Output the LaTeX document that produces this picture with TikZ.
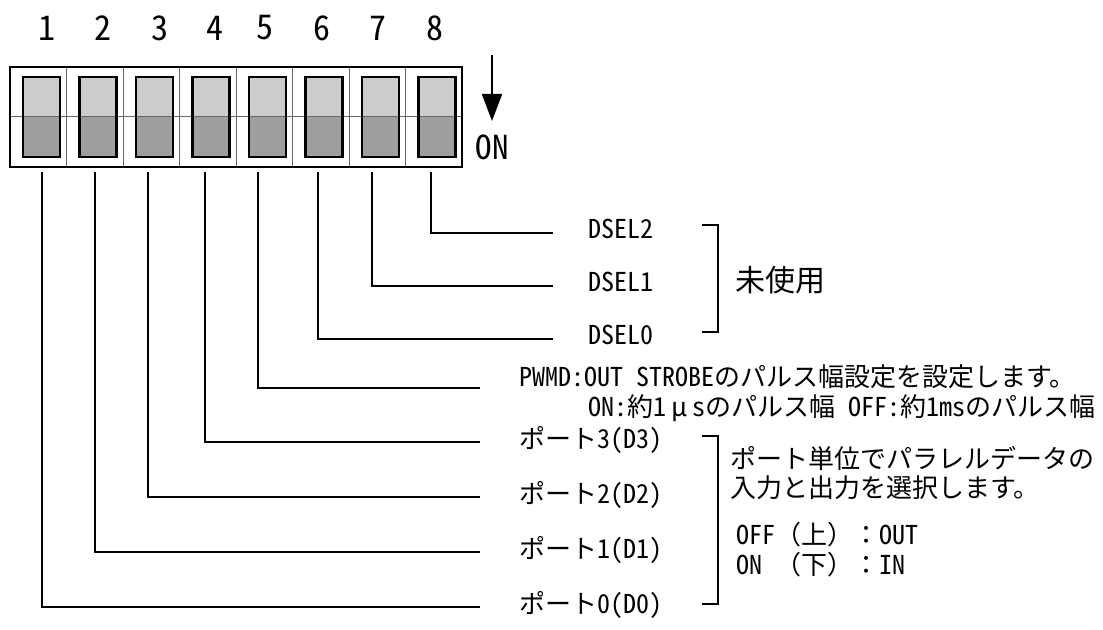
\documentclass[tikz,border=0pt]{standalone}
\usepackage{fontspec}
\setmainfont{Noto Sans CJK JP}[RawFeature=+hwid]
\newfontfamily\jpfull{Noto Sans CJK JP}[RawFeature=+fwid]
\usetikzlibrary{positioning,arrows.meta}

\begin{document}
\begin{tikzpicture}[x=0.5pt, y=-0.5pt,
  cell/.style={draw=black!60, line width=0.4pt},
  lever/.style={draw, line width=1.3pt},
  lead/.style={line width=1pt},
  brk/.style={line width=1pt},
  lbl/.style={anchor=west, inner sep=0pt, font=\fontsize{13}{14}\selectfont},
  num/.style={inner sep=0pt, font=\fontsize{17}{18}\selectfont}
]
\useasboundingbox (0,0) rectangle (1103,630);

% switch body, one cell per bit
\foreach \i/\nx/\lx in {1/47/42, 2/103/95, 3/160/148, 4/215/205, 5/265/258, 6/322/318, 7/378/372, 8/435/431} {
  \pgfmathsetmacro{\xl}{10+56.5*(\i-1)}
  \draw[cell] (\xl,67) rectangle +(56.5,100);
  \fill[black!20] (\xl+13,77) rectangle +(37,39);
  \fill[black!38] (\xl+13,116) rectangle +(37,41);
  \draw[cell] (\xl,116) -- +(56.5,0);
  \draw[lever] (\xl+13,77) rectangle +(37,80);
  \node[num] (n\i) at (\nx,28) {\i};
  \coordinate (s\i) at (\lx,172);
}
\draw[line width=0.8pt] (10,67) rectangle (462,167);

% ON direction
\coordinate (atop) at (492,55);
\coordinate (atip) at (492,121);
\node[num, font=\fontsize{16.5}{17}\selectfont] (on) at (492,147) {ON};
\draw[line width=1pt, -{Triangle[length=13.5pt, width=10pt]}] (atop) -- (atip);

% line ends
\coordinate (e8) at (553,233);
\coordinate (e7) at (553,286);
\coordinate (e6) at (553,339);
\coordinate (e5) at (480,388);
\coordinate (e4) at (480,442);
\coordinate (e3) at (480,497);
\coordinate (e2) at (480,552);
\coordinate (e1) at (480,607);

\foreach \i in {1,...,8}
  \draw[lead] (s\i) |- (e\i);

\node[lbl] (dsel2) at (588,229) {DSEL2};
\node[lbl] (dsel1) at (588,282) {DSEL1};
\node[lbl] (dsel0) at (588,335) {DSEL0};
\node[lbl] (pwmd) at (519,377) {PWMD:OUT STROBEのパルス幅設定を設定します。};
\node[lbl] (pwmdon) at (588,408) {ON:約1{\jpfull\makebox[1em]{μ}}sのパルス幅 OFF:約1msのパルス幅};
\node[lbl] (port3) at (519,440) {ポート3(D3)};
\node[lbl] (port2) at (519,495) {ポート2(D2)};
\node[lbl] (port1) at (519,550) {ポート1(D1)};
\node[lbl] (port0) at (519,605) {ポート0(D0)};

% brackets
\draw[brk] (702,225) -- (718,225) -- (718,332) -- (702,332);
\draw[brk] (702,436) -- (718,436) -- (718,604) -- (702,604);

\node[lbl, font=\fontsize{15}{16}\selectfont] (unused) at (735,280) {未使用};
\node[lbl] (pdesc1) at (730,458) {ポート単位でパラレルデータの};
\node[lbl] (pdesc2) at (730,488) {入力と出力を選択します。};
\node[lbl] (poff) at (736,535) {OFF{\jpfull （上）：}OUT};
\node[lbl] (pon) at (736,565) {ON {\jpfull （下）：}IN};
\end{tikzpicture}
\end{document}
